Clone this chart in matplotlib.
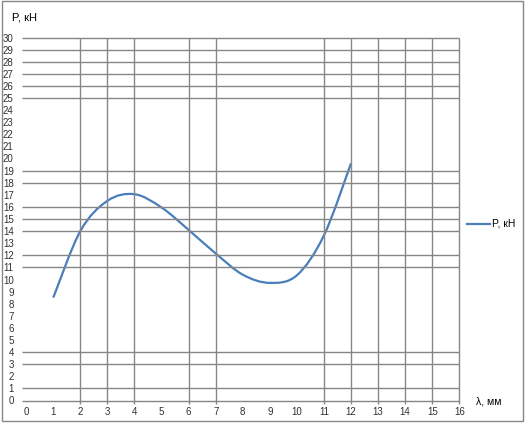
import matplotlib
matplotlib.use("Agg")
import matplotlib.pyplot as plt
from matplotlib.path import Path
from matplotlib.patches import PathPatch, Rectangle
from matplotlib.lines import Line2D

# data
lam = [1, 2, 3, 4, 5, 6, 7, 8, 9, 10, 11, 12]
P = [8.5, 14.0, 16.5, 17.05, 15.95, 14.1, 12.15, 10.4, 9.72, 10.35, 13.65, 19.6]

x_ticks = list(range(0, 17))
y_ticks = list(range(0, 31))

# grid lines that actually show in the picture
grid_x = [2, 3, 4, 6, 7, 11, 12, 13, 14, 15, 16]
grid_y = [0, 1, 3, 4, 11, 12, 14, 15, 16, 18, 19, 25, 26, 27, 28, 29, 30]

gray = "#868686"
blue = "#4A7EBB"
plt.rcParams["font.family"] = ["Liberation Sans", "DejaVu Sans"]

fig = plt.figure(figsize=(5.25, 4.24), dpi=100)
ax = fig.add_axes([26.2 / 525, 1 - 400.5 / 424, (459.3 - 26.2) / 525, (400.5 - 37.5) / 424])
ax.set_xlim(0, 16)
ax.set_ylim(0, 30)
for s in ax.spines.values():
    s.set_visible(False)

ax.vlines(grid_x, -0.32, 30, colors=gray, lw=1.0, clip_on=False)
ax.hlines(grid_y, -0.15, 16, colors=gray, lw=1.0, clip_on=False)

ax.set_xticks(x_ticks)
ax.set_yticks(y_ticks)
ax.tick_params(length=0, labelsize=7, colors="#303030")
ax.tick_params(axis="x", pad=5)
ax.tick_params(axis="y", pad=9)

# smoothed line, Excel style bezier
pts = list(zip(lam, P))
verts = [pts[0]]
codes = [Path.MOVETO]
n = len(pts)
for i in range(n - 1):
    p0 = pts[i - 1] if i > 0 else pts[i]
    p1 = pts[i]
    p2 = pts[i + 1]
    p3 = pts[i + 2] if i + 2 < n else pts[i + 1]
    c1 = (p1[0] + (p2[0] - p0[0]) / 6, p1[1] + (p2[1] - p0[1]) / 6)
    c2 = (p2[0] - (p3[0] - p1[0]) / 6, p2[1] - (p3[1] - p1[1]) / 6)
    verts += [c1, c2, p2]
    codes += [Path.CURVE4] * 3
ax.add_patch(PathPatch(Path(verts, codes), fill=False, edgecolor=blue, lw=1.6, capstyle="butt"))

fig.text(12 / 525, 1 - 18 / 424, "P, кН", fontsize=8, va="center", ha="left")
fig.text(476 / 525, 1 - 402 / 424, "λ, мм", fontsize=7.5, va="center", ha="left")

# legend
fig.add_artist(Line2D([467 / 525, 490 / 525], [1 - 224 / 424] * 2, color=blue, lw=1.6))
fig.text(492 / 525, 1 - 224 / 424, "P, кН", fontsize=7.5, va="center", ha="left")

fig.add_artist(Rectangle((2 / 525, 1 - 420.5 / 424), 521 / 525, 419.5 / 424,
                         transform=fig.transFigure, fill=False, edgecolor=gray, lw=1.0))

fig.savefig("out.png", dpi=100)
